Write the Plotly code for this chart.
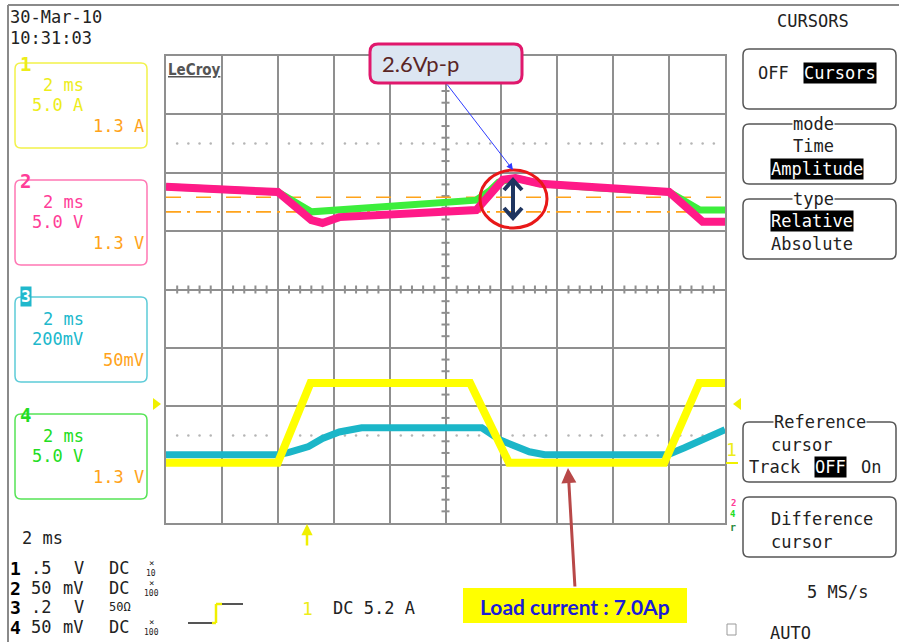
import plotly.graph_objects as go

# ---------------- data: time in ms (2 ms/div), level in screen divisions ----------------
ch1_t = [0, 4.0, 5.17, 10.88, 12.27, 17.83, 19.08, 20]
ch1_v = [1.03, 1.03, 2.40, 2.40, 1.03, 1.03, 2.40, 2.40]

ch3_t = [0, 4.0, 4.4, 5.1, 5.6, 6.2, 7.0, 11.3, 11.96, 12.6, 13.0, 13.55, 17.95, 18.55, 19.35, 20]
ch3_v = [1.17, 1.17, 1.21, 1.31, 1.45, 1.56, 1.63, 1.63, 1.42, 1.28, 1.22, 1.17, 1.17, 1.29, 1.46, 1.60]

ch2_t = [0, 2.0, 4.0, 5.2, 5.6, 6.2, 8.0, 10.0, 11.1, 12.05, 12.5, 13.4, 15.5, 18.0, 19.2, 20]
ch2_v = [5.76, 5.72, 5.67, 5.19, 5.14, 5.24, 5.29, 5.33, 5.36, 5.88, 5.91, 5.81, 5.74, 5.67, 5.16, 5.16]

ch4_t = [0, 2.0, 4.0, 5.2, 6.2, 8.0, 10.0, 11.1, 11.6, 11.9, 12.5, 13.4, 15.5, 18.0, 19.1, 20]
ch4_v = [5.76, 5.72, 5.67, 5.33, 5.36, 5.42, 5.48, 5.53, 5.70, 5.84, 5.91, 5.81, 5.74, 5.67, 5.36, 5.36]

cursor_levels = [5.58, 5.33]
dotted_levels = [6.5, 1.5]

# ---------------- style ----------------
W, H = 899, 642
GX0, GX1, GY0, GY1 = 166, 725, 56, 523
GRID = "#8f8f8f"
MONO = "DejaVu Sans Mono"
YEL, PINK, CYAN, GRN, ORG = "#ffff00", "#ff1a88", "#1bb6c8", "#3cee3c", "#ffa31a"
YEL_T, PINK_T, CYAN_T, GRN_T = "#eded1a", "#ff3d98", "#20b8cc", "#22dd22"
INK = "#222222"

fig = go.Figure()

# dotted reference rows
dx, dy = [], []
for lv in dotted_levels:
    for k in range(1, 50):
        if k % 5:
            dx.append(k * 0.4)
            dy.append(lv)
fig.add_trace(go.Scatter(x=dx, y=dy, mode="markers", marker=dict(size=2.5, color="#b5b5b5"),
                         hoverinfo="skip", showlegend=False))

# center-cross minor ticks
tx, ty = [], []
for k in range(1, 40):
    if k % 5:
        v = k * 0.2
        tx += [10 - 0.143, 10 + 0.143, None]
        ty += [v, v, None]
for k in range(1, 50):
    if k % 5:
        t = k * 0.4
        tx += [t, t, None]
        ty += [4 - 0.0685, 4 + 0.0685, None]
fig.add_trace(go.Scatter(x=tx, y=ty, mode="lines", line=dict(color=GRID, width=2),
                         hoverinfo="skip", showlegend=False))

# cursor lines
for lv, dash in zip(cursor_levels, ["longdash", "longdashdot"]):
    fig.add_trace(go.Scatter(x=[0, 20], y=[lv, lv], mode="lines",
                             line=dict(color=ORG, width=1.6, dash=dash),
                             hoverinfo="skip", showlegend=False))

fig.add_trace(go.Scatter(x=ch4_t, y=ch4_v, mode="lines", line=dict(color=GRN, width=7), showlegend=False))
fig.add_trace(go.Scatter(x=ch2_t, y=ch2_v, mode="lines", line=dict(color=PINK, width=8), showlegend=False))
fig.add_trace(go.Scatter(x=ch3_t, y=ch3_v, mode="lines", line=dict(color=CYAN, width=7), showlegend=False))
fig.add_trace(go.Scatter(x=ch1_t, y=ch1_v, mode="lines", line=dict(color=YEL, width=8), showlegend=False))

# dummy trace to create the pixel-space overlay subplot
fig.add_trace(go.Scatter(x=[], y=[], xaxis="x2", yaxis="y2", showlegend=False))

shapes = []
ann = []


def line(x0, y0, x1, y1, color, width=2):
    shapes.append(dict(type="line", xref="x2", yref="y2", x0=x0, y0=y0, x1=x1, y1=y1,
                       line=dict(color=color, width=width), layer="above"))


def rrect(x0, y0, x1, y1, color, width=1.5, r=6, fill="rgba(0,0,0,0)"):
    p = (f"M{x0+r},{y0} L{x1-r},{y0} Q{x1},{y0} {x1},{y0+r} L{x1},{y1-r} Q{x1},{y1} {x1-r},{y1} "
         f"L{x0+r},{y1} Q{x0},{y1} {x0},{y1-r} L{x0},{y0+r} Q{x0},{y0} {x0+r},{y0} Z")
    shapes.append(dict(type="path", xref="x2", yref="y2", path=p, fillcolor=fill,
                       line=dict(color=color, width=width), layer="above"))


def txt(x, y, s, color=INK, size=17, anchor="left", family=MONO, bg=None, bold=False):
    if bold:
        s = f"<b>{s}</b>"
    a = dict(x=x, y=y, xref="x2", yref="y2", text=s, showarrow=False, xanchor=anchor,
             yanchor="middle", font=dict(family=family, size=size, color=color), borderpad=0)
    if bg:
        a["bgcolor"] = bg
    ann.append(a)


# frame
line(8, 5, 899, 5, "#8a8a8a", 2)
line(8, 5, 8, 642, "#8a8a8a", 2)

# date / time
txt(9, 17, "30-Mar-10")
txt(9, 38, "10:31:03")

# channel boxes
boxes = [
    (63, 148, "#f2f24a", "1", YEL_T, ["2 ms", "5.0 A", "1.3 A"]),
    (180, 265, "#ff77b4", "2", PINK_T, ["2 ms", "5.0 V", "1.3 V"]),
    (297, 382, "#5ccbd8", "3", CYAN_T, ["2 ms", "200mV", "50mV"]),
    (414, 499, "#55e455", "4", GRN_T, ["2 ms", "5.0 V", "1.3 V"]),
]
for y0, y1, bc, lab, tc, lines in boxes:
    rrect(15, y0, 147, y1, bc, 1.5, 6, "white")
    txt(42, y0 + 22, lines[0], tc)
    txt(31, y0 + 42, lines[1], tc)
    txt(145, y0 + 63, lines[2], ORG, anchor="right")
for y0, y1, bc, lab, tc, lines in boxes:
    if lab == "3":
        txt(26, y0 - 1, lab, "white", 16, "center", bg=CYAN_T, bold=True)
    else:
        txt(25, y0 + 1, lab, tc, 19, "center", bold=True)

# bottom-left settings
txt(21, 538, "2 ms")
rows = [
    (568, "1", ".5", "V", "DC", "10"),
    (588, "2", "50", "mV", "DC", "100"),
    (607, "3", ".2", "V", "50Ω", None),
    (627, "4", "50", "mV", "DC", "100"),
]
for y, n, v, u, c, m in rows:
    txt(15, y, n, "#000000", 18, "center", bold=True)
    txt(30, y, v)
    txt(73 if u == "V" else 62, y, u)
    if c == "50Ω":
        txt(108, y, c, INK, 12)
    else:
        txt(108, y, c)
    if m:
        txt(151, y - 5, "×", INK, 9, "center")
        txt(151, y + 5, m, INK, 8, "center")

# trigger symbol
line(188, 623, 212, 623, "#555555", 2)
line(212, 623, 216, 623, "#f0f000", 2.5)
line(216, 623, 216, 604, "#f0f000", 2.5)
line(216, 604, 222, 604, "#f0f000", 2.5)
line(222, 604, 243, 604, "#555555", 2)
txt(307, 608, "1", YEL_T, 18, "center")
txt(332, 608, "DC 5.2 A")

# trigger position arrow under grid
ann.append(dict(x=307, y=524, ax=307, ay=547, xref="x2", yref="y2", axref="x2", ayref="y2",
                text="", showarrow=True, arrowhead=2, arrowsize=0.9, arrowwidth=2.5, arrowcolor="#f0f000"))

# channel-1 level markers
shapes.append(dict(type="path", xref="x2", yref="y2", path="M153,398 L161,404 L153,410 Z",
                   fillcolor="#f0f000", line=dict(width=0), layer="above"))
shapes.append(dict(type="path", xref="x2", yref="y2", path="M741,398 L733,404 L741,410 Z",
                   fillcolor="#f0f000", line=dict(width=0), layer="above"))
txt(731, 449, "1", YEL_T, 18, "center")
line(726, 463, 738, 463, "#f0f000", 2)
txt(733, 503, "2", PINK_T, 9, "center", bold=True)
txt(733, 514, "4", GRN_T, 9, "center", bold=True)
txt(733, 527, "r", "#2a8a3a", 10, "center", bold=True)

# right menu
txt(813, 21, "CURSORS", anchor="center")
rrect(743, 49, 896, 109, "#555555")
txt(757, 73, "OFF")
txt(803, 73, "Cursors", "white", bg="#000000")
rrect(743, 124, 896, 184, "#555555")
txt(813, 124, "mode", INK, anchor="center", bg="white")
txt(813, 146, "Time", anchor="center")
txt(770, 169, "Amplitude", "white", bg="#000000")
rrect(743, 199, 896, 259, "#555555")
txt(813, 199, "type", INK, anchor="center", bg="white")
txt(770, 221, "Relative", "white", bg="#000000")
txt(770, 244, "Absolute")
rrect(743, 422, 896, 482, "#555555")
txt(820, 422, "Reference", INK, anchor="center", bg="white")
txt(770, 445, "cursor")
txt(748, 467, "Track")
txt(814, 467, "OFF", "white", bg="#000000")
txt(860, 467, "On")
rrect(743, 497, 896, 557, "#555555")
txt(770, 519, "Difference")
txt(770, 542, "cursor")
txt(837, 592, "5 MS/s", anchor="center")
shapes.append(dict(type="rect", xref="x2", yref="y2", x0=727, y0=624, x1=736, y1=635,
                   line=dict(color="#9a9a9a", width=1), layer="above"))
txt(769, 633, "AUTO")

# LeCroy logo
txt(167, 70, "<u>LeCroy</u>", "#555555", 15, family="DejaVu Sans Condensed", bold=True)

# callout 2.6Vp-p
rrect(370, 44, 522, 83, "#e0186c", 3, 8, "#dce6f2")
txt(381, 63, "2.6Vp-p", "#5a2525", 22, family="Lato")
ann.append(dict(x=513, y=170, ax=446, ay=83, xref="x2", yref="y2", axref="x2", ayref="y2",
                text="", showarrow=True, arrowhead=2, arrowsize=1.3, arrowwidth=1, arrowcolor="#2f3cff"))

# red circle + double arrow
shapes.append(dict(type="circle", xref="x2", yref="y2", x0=480, y0=170, x1=547, y1=228,
                   line=dict(color="#e81818", width=3), layer="above"))
NAVY = "#1f3560"
line(513, 181, 513, 217, NAVY, 4)
shapes.append(dict(type="path", xref="x2", yref="y2", path="M504,190 L513,180 L522,190",
                   line=dict(color=NAVY, width=4), layer="above"))
shapes.append(dict(type="path", xref="x2", yref="y2", path="M504,208 L513,218 L522,208",
                   line=dict(color=NAVY, width=4), layer="above"))

# load current label
ann.append(dict(x=568, y=468, ax=575, ay=588, xref="x2", yref="y2", axref="x2", ayref="y2",
                text="", showarrow=True, arrowhead=2, arrowsize=1, arrowwidth=3, arrowcolor="#b84848"))
shapes.append(dict(type="rect", xref="x2", yref="y2", x0=463, y0=588, x1=687, y1=623,
                   fillcolor="#ffff00", line=dict(width=0), layer="above"))
txt(575, 606, "Load current : 7.0Ap", "#1c1cd6", 21, "center", family="Lato", bold=True)

axis_common = dict(showticklabels=False, ticks="", zeroline=False, fixedrange=True)
fig.update_layout(
    width=W, height=H, autosize=False,
    margin=dict(l=0, r=0, t=0, b=0),
    paper_bgcolor="white", plot_bgcolor="rgba(0,0,0,0)",
    showlegend=False,
    xaxis=dict(domain=[GX0 / W, GX1 / W], range=[0, 20], dtick=2, showgrid=True,
               gridcolor=GRID, gridwidth=2, showline=True, mirror=True, linecolor=GRID,
               linewidth=2, anchor="y", **axis_common),
    yaxis=dict(domain=[(H - GY1) / H, (H - GY0) / H], range=[0, 8], dtick=1, showgrid=True,
               gridcolor=GRID, gridwidth=2, showline=True, mirror=True, linecolor=GRID,
               linewidth=2, anchor="x", **axis_common),
    xaxis2=dict(domain=[0, 1], range=[0, W], visible=False, anchor="y2", fixedrange=True),
    yaxis2=dict(domain=[0, 1], range=[H, 0], visible=False, anchor="x2", fixedrange=True),
    shapes=shapes,
    annotations=ann,
)

fig.write_html("out.html", config={"displayModeBar": False},
               post_script="document.body.style.margin='0';document.body.style.overflow='hidden';")
